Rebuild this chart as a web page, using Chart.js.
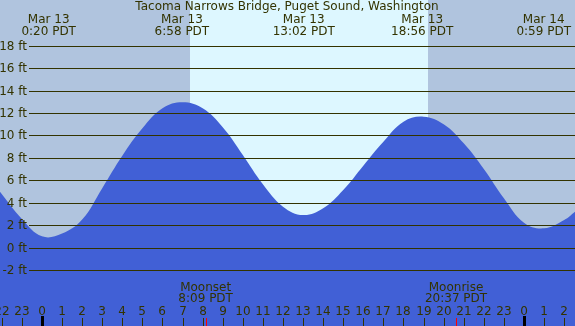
<!DOCTYPE html>
<html>
<head>
<meta charset="utf-8">
<script src="https://cdn.jsdelivr.net/npm/chart.js@4"></script>
<style>
  body { margin: 0; background: #fff; }
  canvas { display: block; }
</style>
</head>
<body>
<canvas id="tideChart" width="575" height="326"></canvas>
<script>
// hours from midnight Mar 13 (PDT) and tide height in feet
const tideHours = [-2.09, -1, 0, 1, 2, 3, 4, 5, 6, 7, 8, 9, 10, 11, 12, 13, 14, 15, 16, 17, 18, 19, 20, 21, 22, 23, 24, 25, 26, 26.54];
const tideFeet  = [4.98, 2.55, 1.0, 1.25, 2.5, 5.3, 8.19, 10.63, 12.41, 12.95, 12.41, 10.72, 8.25, 5.64, 3.65, 2.9, 3.5, 5.13, 7.3, 9.44, 11.22, 11.67, 10.99, 9.29, 7.0, 4.39, 2.22, 1.72, 2.46, 3.2];

const feetTicks = [-2, 0, 2, 4, 6, 8, 10, 12, 14, 16, 18];
const hourTicks = [-2, -1, 0, 1, 2, 3, 4, 5, 6, 7, 8, 9, 10, 11, 12, 13, 14, 15, 16, 17, 18, 19, 20, 21, 22, 23, 24, 25, 26];

const extremeHours = [0.333, 6.967, 13.033, 18.933, 24.983];
const extremeDates = ["Mar 13", "Mar 13", "Mar 13", "Mar 13", "Mar 14"];
const extremeTimes = ["0:20 PDT", "6:58 PDT", "13:02 PDT", "18:56 PDT", "0:59 PDT"];

const moonHours = [8.15, 20.617];
const moonNames = ["Moonset", "Moonrise"];
const moonTimes = ["8:09 PDT", "20:37 PDT"];

const sunHours = [7.37, 19.22]; // sunrise, sunset

const title = "Tacoma Narrows Bridge, Puget Sound, Washington";
const ink = "#333300";
const font = "12px 'DejaVu Sans'";

const tidePlugin = {
  id: "tideDecor",
  beforeDatasetsDraw(chart) {
    const ctx = chart.ctx, x = chart.scales.x, a = chart.chartArea;
    const rise = Math.round(x.getPixelForValue(sunHours[0]));
    const set = Math.round(x.getPixelForValue(sunHours[1]));
    ctx.save();
    ctx.fillStyle = "#b0c4de";
    ctx.fillRect(a.left, a.top, rise - a.left, a.bottom - a.top);
    ctx.fillRect(set, a.top, a.right - set, a.bottom - a.top);
    ctx.fillStyle = "#ddf7ff";
    ctx.fillRect(rise, a.top, set - rise, a.bottom - a.top);
    ctx.restore();
  },
  afterDatasetsDraw(chart) {
    const ctx = chart.ctx, x = chart.scales.x, y = chart.scales.y, a = chart.chartArea;
    ctx.save();
    ctx.font = font;
    ctx.fillStyle = ink;
    ctx.strokeStyle = ink;
    ctx.lineWidth = 1;

    // horizontal grid and feet labels
    ctx.textAlign = "right";
    ctx.textBaseline = "middle";
    feetTicks.forEach(f => {
      const py = Math.round(y.getPixelForValue(f)) + 0.5;
      ctx.beginPath();
      ctx.moveTo(29, py);
      ctx.lineTo(a.right, py);
      ctx.stroke();
      ctx.fillText(f + " ft", 27, py);
    });

    // title and high/low labels
    ctx.textAlign = "center";
    ctx.fillText(title, 287, 7);
    extremeHours.forEach((h, i) => {
      const px = x.getPixelForValue(h);
      ctx.fillText(extremeDates[i], px, 20);
      ctx.fillText(extremeTimes[i], px, 32);
    });

    // moon events
    moonHours.forEach((h, i) => {
      const px = x.getPixelForValue(h);
      ctx.fillText(moonNames[i], px, 288);
      ctx.fillText(moonTimes[i], px, 299);
    });

    // hour ticks
    hourTicks.forEach(h => {
      const px = Math.round(x.getPixelForValue(h));
      const lbl = ((h % 24) + 24) % 24;
      ctx.fillText(String(lbl), px, 312);
      if (lbl === 0) {
        ctx.fillStyle = "#000";
        ctx.fillRect(px - 1, 316, 3, 10);
        ctx.fillStyle = ink;
      } else {
        ctx.fillRect(px, 318, 1, 8);
      }
    });
    ctx.fillStyle = "#ff0000";
    moonHours.forEach(h => {
      const px = Math.round(x.getPixelForValue(h));
      ctx.fillRect(px, 318, 1, 8);
    });
    ctx.restore();
  }
};

new Chart(document.getElementById("tideChart"), {
  type: "line",
  data: {
    datasets: [{
      data: tideHours.map((h, i) => ({ x: h, y: tideFeet[i] })),
      borderWidth: 0,
      borderColor: "rgba(0,0,0,0)",
      backgroundColor: "#4160d6",
      fill: "start",
      pointRadius: 0,
      tension: 0.4
    }]
  },
  options: {
    responsive: false,
    animation: false,
    layout: { padding: 0 },
    plugins: { legend: { display: false }, tooltip: { enabled: false } },
    scales: {
      x: { type: "linear", min: -2.09, max: 26.54, display: false },
      y: { min: -6.99, max: 22.07, display: false }
    }
  },
  plugins: [tidePlugin]
});
</script>
</body>
</html>
